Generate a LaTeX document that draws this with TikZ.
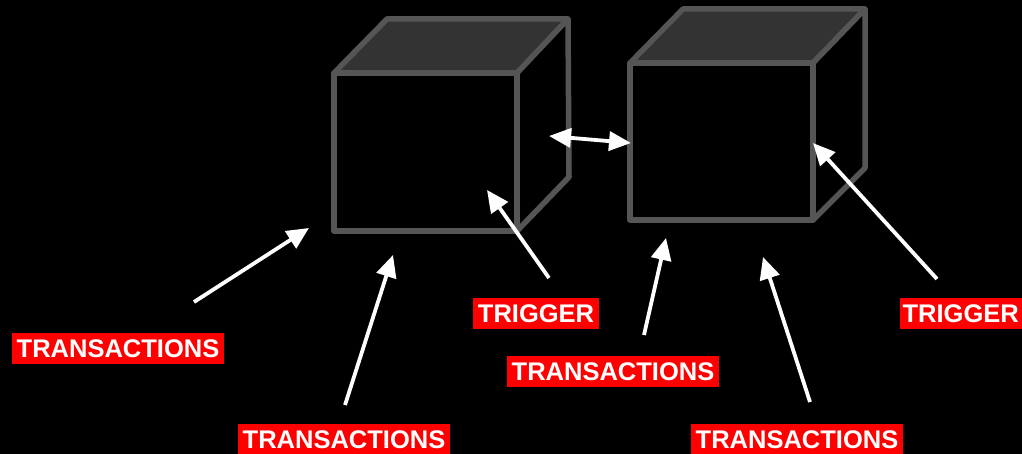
\documentclass[tikz,border=0pt]{standalone}
\usepackage{fontspec}
\setmainfont{Liberation Sans}
\usetikzlibrary{arrows.meta}
\definecolor{edgegray}{HTML}{555555}
\definecolor{topgray}{HTML}{333333}
\definecolor{labelred}{HTML}{FF0000}
\begin{document}
\begin{tikzpicture}[x=1pt,y=-1pt,
  cubeedge/.style={draw=edgegray,line width=5.5pt,line join=round},
  lbl/.style={fill=labelred,text=white,font=\fontsize{25.5}{30}\selectfont\bfseries,
    inner xsep=4.5pt,inner ysep=6.5pt,text height=18pt,text depth=0pt},
  arr/.style={draw=white,line width=3.8pt,-{Triangle[length=22pt,width=20pt]}},
  dblarr/.style={draw=white,line width=3.8pt,{Triangle[length=22pt,width=19pt]}-{Triangle[length=22pt,width=19pt]}}]
\fill[black] (0,0) rectangle (1022,454);
\useasboundingbox (0,0) rectangle (1022,454);
% cube 1
\filldraw[cubeedge,fill=topgray] (334,73) -- (387,19) -- (568,19) -- (517,73) -- cycle;
\filldraw[cubeedge,fill=black] (517,73) -- (568,19) -- (569,177) -- (517,231) -- cycle;
\filldraw[cubeedge,fill=black] (334,73) rectangle (517,231);
% cube 2
\filldraw[cubeedge,fill=topgray] (630,63) -- (683,9) -- (865,9) -- (813,63) -- cycle;
\filldraw[cubeedge,fill=black] (813,63) -- (865,9) -- (865,168) -- (813,220) -- cycle;
\filldraw[cubeedge,fill=black] (630,63) rectangle (813,220);
% labels
\node[lbl] (t1) at (118,348) {TRANSACTIONS};
\node[lbl] (t2) at (344,439) {TRANSACTIONS};
\node[lbl] (g1) at (536,313) {TRIGGER};
\node[lbl] (t3) at (613,371) {TRANSACTIONS};
\node[lbl] (t4) at (797,439) {TRANSACTIONS};
\node[lbl,anchor=east,inner xsep=3pt] (g2) at (1022,313) {TRIGGER};
% arrow ends
\coordinate (a1s) at (194,302); \coordinate (a1e) at (309,228);
\coordinate (a2s) at (345,405); \coordinate (a2e) at (393,255);
\coordinate (a3s) at (549,278); \coordinate (a3e) at (487,190);
\coordinate (a4s) at (549,136); \coordinate (a4e) at (631,143);
\coordinate (a5s) at (644,335); \coordinate (a5e) at (666,238);
\coordinate (a6s) at (810,402); \coordinate (a6e) at (763,257);
\coordinate (a7s) at (937,279); \coordinate (a7e) at (813,143);
\draw[arr] (a1s) -- (a1e);
\draw[arr] (a2s) -- (a2e);
\draw[arr] (a3s) -- (a3e);
\draw[dblarr] (a4s) -- (a4e);
\draw[arr] (a5s) -- (a5e);
\draw[arr] (a6s) -- (a6e);
\draw[arr] (a7s) -- (a7e);
\end{tikzpicture}
\end{document}
